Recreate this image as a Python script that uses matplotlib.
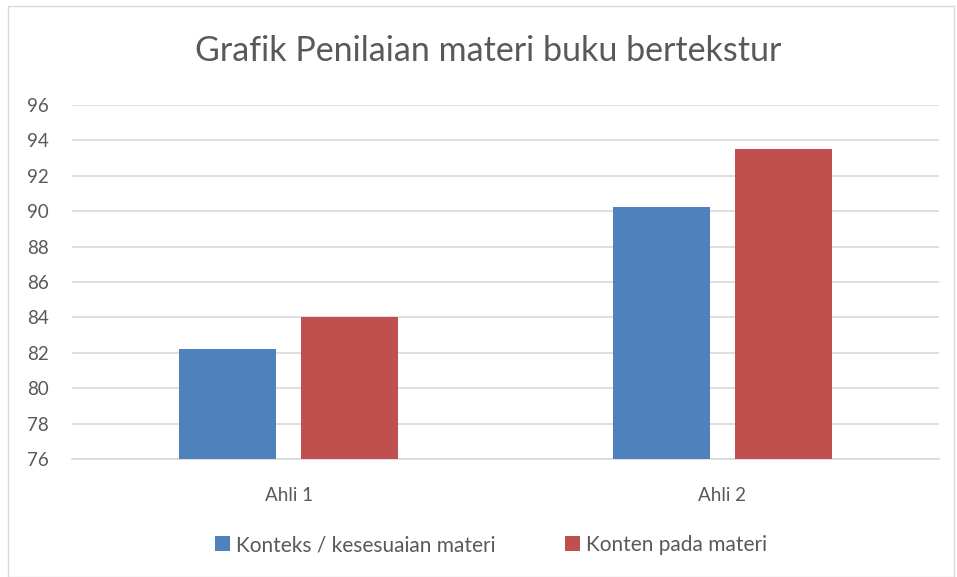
import matplotlib.pyplot as plt
import numpy as np
from matplotlib.patches import Rectangle

plt.rcParams['font.family'] = ['Lato', 'DejaVu Sans']

categories = ['Ahli 1', 'Ahli 2']
konteks = [82.2, 90.25]
konten = [84.0, 93.5]
series_names = ['Konteks / kesesuaian materi', 'Konten pada materi']
yticks = np.arange(76, 97, 2)

text_col = '#595959'
blue = '#4f81bd'
red = '#c0504d'

fig = plt.figure(figsize=(9.57, 5.77), dpi=100)
ax = fig.add_axes([72 / 957, 1 - 459 / 577, 867 / 957, 354 / 577])

# outer chart border
fig.patches.append(Rectangle((8 / 957, 0), 946 / 957, 571 / 577, transform=fig.transFigure,
                             fill=False, edgecolor='#d9d9d9', linewidth=1))

x = np.arange(len(categories))
w = 0.224
b1 = ax.bar(x - 0.141, np.array(konteks) - 76, bottom=76, width=w, color=blue,
            label=series_names[0], zorder=3)
b2 = ax.bar(x + 0.141, np.array(konten) - 76, bottom=76, width=w, color=red,
            label=series_names[1], zorder=3)

ax.set_xlim(-0.5, 1.5)
ax.set_ylim(76, 96)
ax.set_yticks(yticks)
ax.set_xticks(x)
ax.set_xticklabels(categories)
ax.yaxis.grid(True, color='#d9d9d9', linewidth=1.2, zorder=0)
for s in ax.spines.values():
    s.set_visible(False)
ax.spines['bottom'].set_visible(True)
ax.spines['bottom'].set_color('#d9d9d9')
ax.spines['bottom'].set_linewidth(1.2)
ax.tick_params(axis='both', length=0, labelsize=13.5, colors=text_col)
ax.tick_params(axis='y', pad=16.5)
ax.tick_params(axis='x', pad=20)

fig.text(488 / 957, 1 - 51 / 577, 'Grafik Penilaian materi buku bertekstur',
         ha='center', va='center', fontsize=24.5, color=text_col)

fig.legend(handles=[b1, b2], loc='center', bbox_to_anchor=(491 / 957, 1 - 545 / 577),
           ncol=2, frameon=False, fontsize=15, labelcolor=text_col,
           handlelength=0.75, handleheight=0.75, handletextpad=0.3, columnspacing=3.3)

fig.savefig('out.png', dpi=100)
